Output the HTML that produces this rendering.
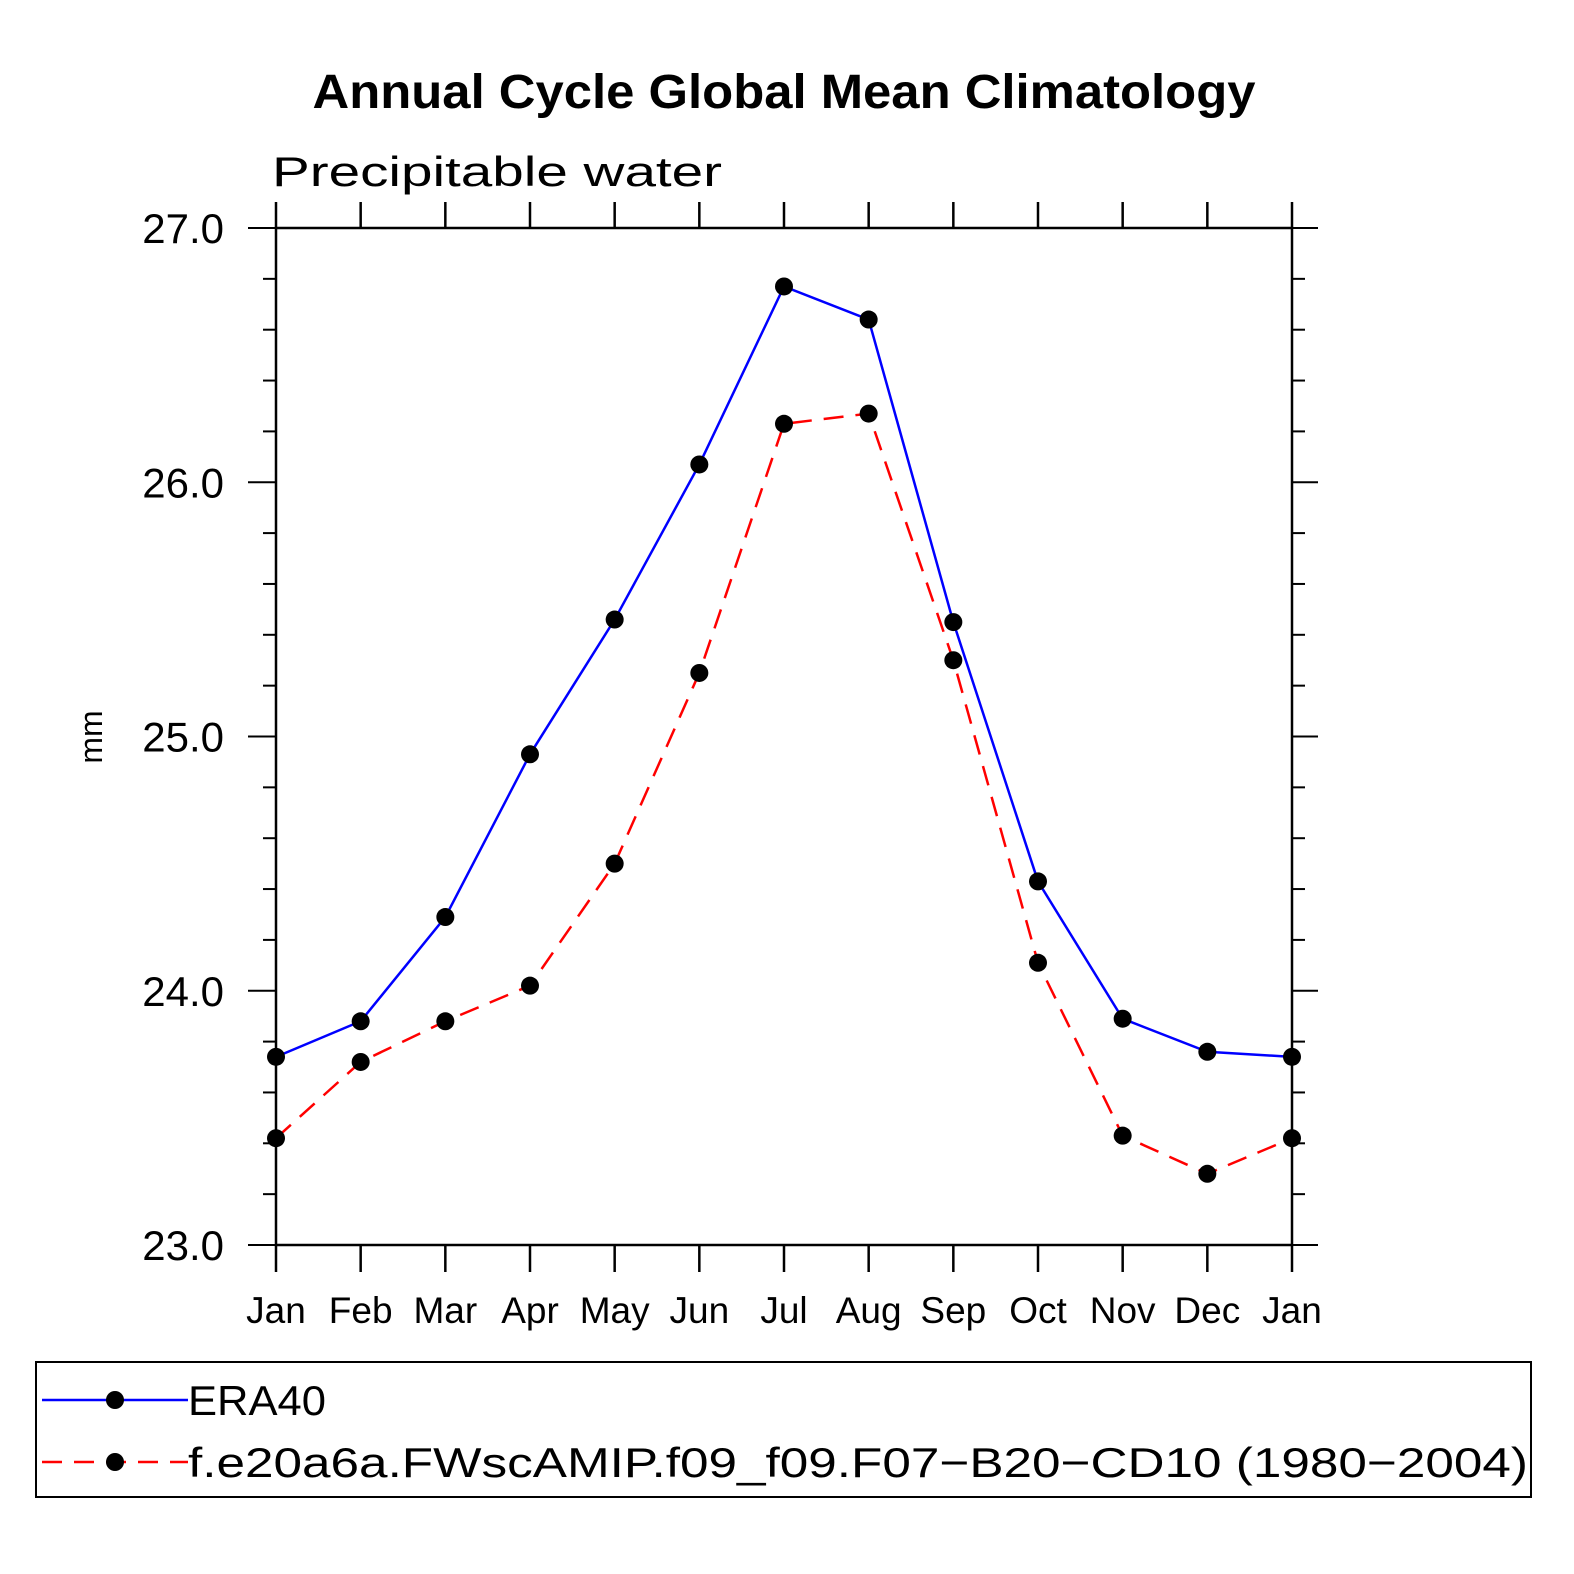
<!DOCTYPE html>
<html><head><meta charset="utf-8"><style>
html,body{margin:0;padding:0;background:#fff;overflow:hidden;width:1574px;height:1574px;}
svg{display:block;}
svg text{font-family:"Liberation Sans",sans-serif;}
</style></head><body>
<svg id="c" width="1574" height="1574" viewBox="0 0 1574 1574" xmlns="http://www.w3.org/2000/svg">
<text x="784" y="108" text-anchor="middle" font-size="48" font-weight="bold" textLength="943" lengthAdjust="spacingAndGlyphs">Annual Cycle Global Mean Climatology</text>
<text x="272" y="186" font-size="42" textLength="450" lengthAdjust="spacingAndGlyphs">Precipitable water</text>
<text x="0" y="0" font-size="32" text-anchor="middle" transform="translate(102,737) rotate(-90)">mm</text>
<g id="axes"></g>
<g id="series"></g>
<rect x="36" y="1362" width="1495" height="135" fill="none" stroke="#000" stroke-width="2"/>
<g>
<line x1="42" y1="1400" x2="188" y2="1400" stroke="#0000ff" stroke-width="2.5"/>
<circle cx="115" cy="1400" r="9"/>
<text x="188" y="1415" font-size="42" textLength="138" lengthAdjust="spacingAndGlyphs">ERA40</text>
</g>
<g>
<line x1="42" y1="1462" x2="188" y2="1462" stroke="#ff0000" stroke-width="2.5" stroke-dasharray="20,12"/>
<circle cx="115" cy="1462" r="9"/>
<text x="188" y="1477" font-size="42" textLength="1340" lengthAdjust="spacingAndGlyphs">f.e20a6a.FWscAMIP.f09_f09.F07−B20−CD10 (1980−2004)</text>
</g>
</svg>
<script>
const months=["Jan","Feb","Mar","Apr","May","Jun","Jul","Aug","Sep","Oct","Nov","Dec","Jan"];
const era40=[23.74,23.88,24.29,24.93,25.46,26.07,26.77,26.64,25.45,24.43,23.89,23.76,23.74];
const model=[23.42,23.72,23.88,24.02,24.50,25.25,26.23,26.27,25.30,24.11,23.43,23.28,23.42];
const yTicks=["23.0","24.0","25.0","26.0","27.0"];
const NS="http://www.w3.org/2000/svg";
const X0=276,X1=1292,Y0=1245,Y1=228,YMIN=23,YMAX=27;
const xs=i=>X0+i*(X1-X0)/(months.length-1);
const ys=v=>Y0-(v-YMIN)/(YMAX-YMIN)*(Y0-Y1);
function mk(tag,attrs,parent){const e=document.createElementNS(NS,tag);for(const k in attrs)e.setAttribute(k,attrs[k]);parent.appendChild(e);return e;}
const ax=document.getElementById('axes');
const frame=mk('rect',{x:X0,y:Y1,width:X1-X0,height:Y0-Y1,fill:'none',stroke:'#000','stroke-width':2.5},ax);


months.forEach((m,i)=>{
  const x=xs(i);
  mk('line',{x1:x,y1:Y0,x2:x,y2:Y0+27,stroke:'#000','stroke-width':2.5},ax);
  mk('line',{x1:x,y1:Y1,x2:x,y2:Y1-26,stroke:'#000','stroke-width':2.5},ax);
  const t=mk('text',{x:x,y:1323,'font-size':37,'text-anchor':'middle'},ax);
  t.textContent=m;
  
  
});
for(let k=0;k<=20;k++){
  const v=YMIN+k*0.2,y=ys(v),major=(k%5===0);
  mk('line',{x1:X0-(major?28:13),y1:y,x2:X0,y2:y,stroke:'#000','stroke-width':2},ax);
  mk('line',{x1:X1,y1:y,x2:X1+(major?26:13),y2:y,stroke:'#000','stroke-width':2},ax);
}
yTicks.forEach(s=>{
  const t=mk('text',{x:224,y:ys(parseFloat(s))+15,'font-size':42,'text-anchor':'end'},ax);
  t.textContent=s;
  
  
});
const sg=document.getElementById('series');
function draw(vals,color,dash,name){
  const g=mk('g',{},sg);
  
  
  const pts=vals.map((v,i)=>xs(i)+','+ys(v)).join(' ');
  const a={points:pts,fill:'none',stroke:color,'stroke-width':2.5};
  if(dash)a['stroke-dasharray']=dash;
  mk('polyline',a,g);
  vals.forEach((v,i)=>{
    const c=mk('circle',{cx:xs(i),cy:ys(v),r:9,fill:'#000'},g);
    
    
  });
}
draw(era40,'#0000ff',null,'series-era40');
draw(model,'#ff0000','20,12','series-model');
</script>
</body></html>
